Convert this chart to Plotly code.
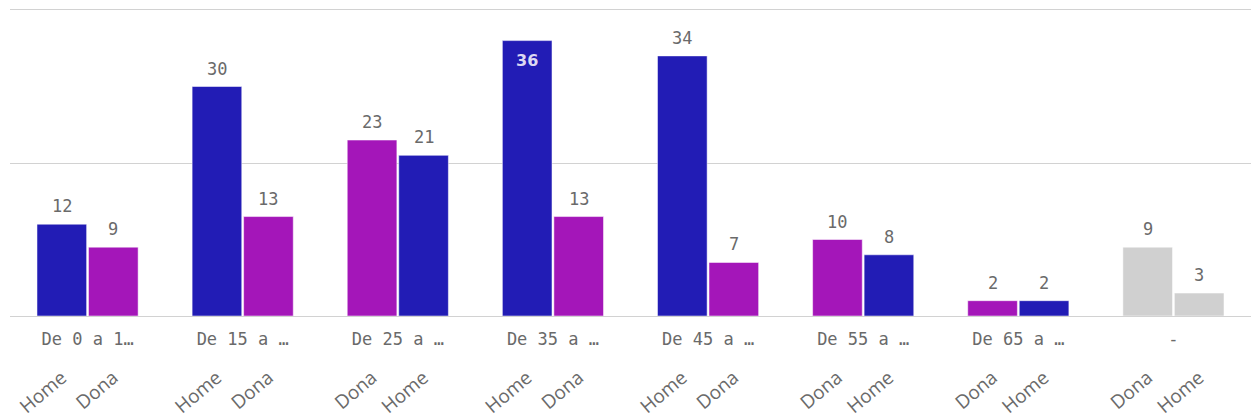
import plotly.graph_objects as go

groups = ["De 0 a 1…", "De 15 a …", "De 25 a …", "De 35 a …",
          "De 45 a …", "De 55 a …", "De 65 a …", "-"]
first_sex = ["Home", "Home", "Dona", "Home", "Home", "Dona", "Dona", "Dona"]
first_val = [12, 30, 23, 36, 34, 10, 2, 9]
second_sex = ["Dona", "Dona", "Home", "Dona", "Dona", "Home", "Home", "Home"]
second_val = [9, 13, 21, 13, 7, 8, 2, 3]

colors = {"Home": "#221cb5", "Dona": "#a416b9"}
grey = "#d0d0d0"
ymax = 40
off = 0.166
bw = 0.32
label_color = "#6a6a6a"
mono = "DejaVu Sans Mono"
axis_line = "#d2d2d2"

def bar_colors(sexes):
    return [grey if g == "-" else colors[s] for g, s in zip(groups, sexes)]

xs1 = [i - off for i in range(len(groups))]
xs2 = [i + off for i in range(len(groups))]

fig = go.Figure()
annotations = []
for xs, vals, sexes, ax in [(xs1, first_val, first_sex, "x"), (xs2, second_val, second_sex, "x2")]:
    fig.add_trace(go.Bar(
        x=xs, y=vals, width=bw, xaxis=ax,
        marker=dict(color=bar_colors(sexes), line=dict(width=1, color="rgba(255,255,255,0.5)")),
        cliponaxis=False, showlegend=False, hoverinfo="skip",
    ))
    for x, v in zip(xs, vals):
        if v > 0.85 * ymax:
            annotations.append(dict(
                x=x, y=v, xref=ax, yref="y", text=f"<b>{v}</b>", showarrow=False,
                yanchor="top", yshift=-8,
                font=dict(size=16, color="#dcd8f2", family="DejaVu Sans"),
            ))
        else:
            annotations.append(dict(
                x=x, y=v, xref=ax, yref="y", text=str(v), showarrow=False,
                yanchor="bottom", yshift=6,
                font=dict(size=17, color=label_color, family=mono),
            ))

fig.update_layout(
    width=1251, height=419,
    margin=dict(l=10, r=0, t=10, b=103),
    paper_bgcolor="white", plot_bgcolor="white",
    barmode="overlay",
    font=dict(family="DejaVu Sans", size=14, color=label_color),
    annotations=annotations,
    xaxis=dict(
        range=[-0.5, len(groups) - 0.5], automargin=False,
        tickmode="array", tickvals=list(range(len(groups))), ticktext=groups,
        tickangle=0, showgrid=False, zeroline=False, showline=True, mirror=True,
        linecolor=axis_line, linewidth=1, ticks="",
        tickfont=dict(size=17, color=label_color, family=mono),
        ticklabelstandoff=8,
    ),
    xaxis2=dict(
        matches="x", overlaying="x", anchor="y", side="bottom", automargin=False,
        tickmode="array", tickvals=xs1 + xs2, ticktext=first_sex + second_sex,
        tickangle=-40, showgrid=False, zeroline=False, showline=False, ticks="",
        tickfont=dict(size=19, color=label_color, family="Open Sans"),
        ticklabelstandoff=46,
    ),
    yaxis=dict(
        range=[0, ymax], tickvals=[0, 20, 40], showticklabels=False,
        automargin=False,
        showgrid=True, gridcolor=axis_line, gridwidth=1, zeroline=False,
    ),
)

fig.write_html(
    "out.html",
    config={"displayModeBar": False},
    post_script="document.body.style.margin='0';document.body.style.overflow='hidden';",
)
